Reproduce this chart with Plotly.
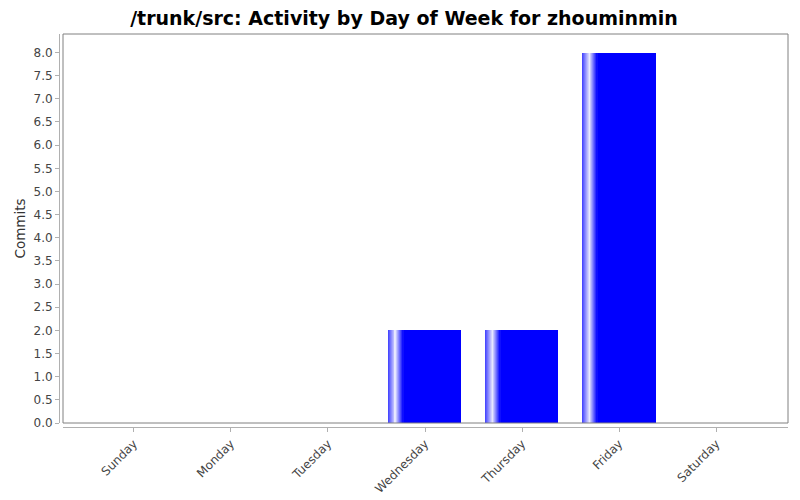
import plotly.graph_objects as go

days = ["Sunday", "Monday", "Tuesday", "Wednesday", "Thursday", "Friday", "Saturday"]
commits = [0, 0, 0, 2, 2, 8, 0]
y_ticks = [0.0, 0.5, 1.0, 1.5, 2.0, 2.5, 3.0, 3.5, 4.0, 4.5, 5.0, 5.5, 6.0, 6.5, 7.0, 7.5, 8.0]

BAR_W = 0.75
BLUE = (0, 0, 255)
LIGHT = (245, 245, 255)
EDGE = (60, 60, 255)

# the page body has an 8px margin, so the figure is a bit smaller than the window
W, H = 792, 492
ML, MR, MT, MB = 51, 12, 26, 73
PW, PH = W - ML - MR, H - MT - MB

fig = go.Figure()

# solid bars
fig.add_trace(go.Bar(x=days, y=commits, width=BAR_W, offset=-BAR_W / 2,
                     marker=dict(color="rgb(0,0,255)", line=dict(width=0)),
                     hoverinfo="skip", showlegend=False))


def mix(a, b, t):
    return "rgb(%d,%d,%d)" % tuple(round(a[i] + (b[i] - a[i]) * t) for i in range(3))


# left-side gradient (blue -> white -> blue), drawn as thin stripes
n = 16
step = BAR_W * 0.2 / n
for k in range(n):
    f = (k + 0.5) / n
    if f < 0.5:
        col = mix(EDGE, LIGHT, f / 0.5)
    else:
        col = mix(LIGHT, BLUE, (f - 0.5) / 0.5)
    fig.add_trace(go.Bar(x=days, y=commits, width=step * 1.05,
                         offset=-BAR_W / 2 + k * step,
                         marker=dict(color=col, line=dict(width=0)),
                         hoverinfo="skip", showlegend=False))

fig.update_layout(
    width=W, height=H,
    margin=dict(l=ML, r=MR, t=MT, b=MB, autoexpand=False),
    paper_bgcolor="white", plot_bgcolor="white",
    barmode="overlay", bargap=0,
    font=dict(family="DejaVu Sans", color="#444444"),
    title=dict(text="<b>/trunk/src: Activity by Day of Week for zhouminmin</b>",
               x=0.5, xanchor="center", y=1, yanchor="top", pad=dict(t=4),
               font=dict(size=19, color="black", family="DejaVu Sans")),
    xaxis=dict(domain=[4 / PW, 1], anchor="free", position=0,
               range=[-0.73, 6.74], showgrid=False, zeroline=False,
               showline=True, linecolor="#b0b0b0", linewidth=1,
               ticks="outside", ticklen=4, tickcolor="#b0b0b0",
               tickangle=-45, tickfont=dict(size=12, color="#444444")),
    yaxis=dict(domain=[4 / PH, 1], anchor="free", position=0,
               range=[0, 8.4], tickvals=y_ticks,
               ticktext=["%.1f" % v for v in y_ticks],
               showgrid=False, zeroline=False,
               showline=True, linecolor="#b0b0b0", linewidth=1,
               ticks="outside", ticklen=4, tickcolor="#b0b0b0",
               tickfont=dict(size=12, color="#444444"),
               title=dict(text="Commits", font=dict(size=13.5, color="#333333"), standoff=3)),
    shapes=[dict(type="rect", xref="x domain", yref="y domain",
                 x0=0, x1=1, y0=0, y1=1,
                 line=dict(color="#808080", width=1), layer="above")],
)

fig.write_html("out.html")
